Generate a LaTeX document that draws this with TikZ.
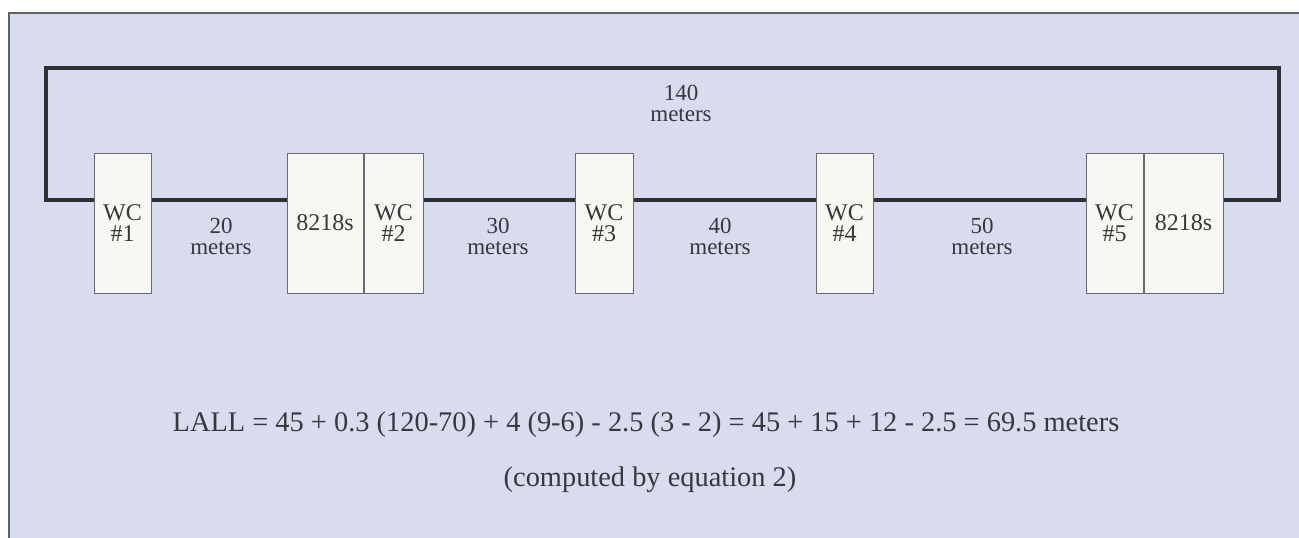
\documentclass[tikz,border=0pt]{standalone}
\usepackage{fontspec}
\setmainfont{Liberation Serif}
\usetikzlibrary{positioning}

\definecolor{panelfill}{RGB}{216,220,238}
\definecolor{panelline}{RGB}{95,100,98}
\definecolor{boxfill}{RGB}{248,248,243}
\definecolor{boxline}{RGB}{110,104,118}
\definecolor{cable}{RGB}{45,50,52}
\definecolor{ink}{RGB}{55,55,60}

\tikzset{
  unit/.style={draw=boxline, fill=boxfill, line width=0.5pt, minimum height=70pt,
    inner sep=0pt, align=center, text=ink, font=\fontsize{12}{10.5}\selectfont},
  dist/.style={align=center, text=ink, font=\fontsize{11.5}{10.5}\selectfont},
  cable/.style={draw=cable, line width=1.6pt}
}

\begin{document}
\begin{tikzpicture}[x=0.5pt, y=-0.5pt]
  \useasboundingbox (0,0) rectangle (1299,537);
  % background panel
  \draw[panelline, fill=panelfill, line width=0.8pt] (9,13) rectangle (1310,550);

  % work centers and controllers
  \node[unit, minimum width=28.5pt] (wc1) at (122.5,223) {WC\\\#1};
  \node[unit, minimum width=38pt] (s2) at (325,223) {8218s};
  \node[unit, minimum width=29.5pt, right=0pt of s2] (wc2) {WC\\\#2};
  \node[unit, minimum width=29pt] (wc3) at (604,223) {WC\\\#3};
  \node[unit, minimum width=28.5pt] (wc4) at (844.5,223) {WC\\\#4};
  \node[unit, minimum width=28.5pt] (wc5) at (1114.5,223) {WC\\\#5};
  \node[unit, minimum width=39.5pt, right=0pt of wc5] (s5) {8218s};

  % cable run
  \coordinate (ly) at (0,200);
  \coordinate (tl) at (46,68);
  \coordinate (tr) at (1279,68);
  \draw[cable] (wc1.east |- ly) -- (s2.west |- ly);
  \draw[cable] (wc2.east |- ly) -- (wc3.west |- ly);
  \draw[cable] (wc3.east |- ly) -- (wc4.west |- ly);
  \draw[cable] (wc4.east |- ly) -- (wc5.west |- ly);
  \draw[cable] (wc1.west |- ly) -| (tl) -- (tr) |- (s5.east |- ly);

  % distances
  \node[dist] (d140) at (681,103) {140\\meters};
  \node[dist] (d20) at (221,236) {20\\meters};
  \node[dist] (d30) at (498,236) {30\\meters};
  \node[dist] (d40) at (720,236) {40\\meters};
  \node[dist] (d50) at (982,236) {50\\meters};

  % result
  \node[text=ink, font=\fontsize{14.2}{15}\selectfont] (eqn) at (646,425)
    {LALL = 45 + 0.3 (120-70) + 4 (9-6) - 2.5 (3 - 2) = 45 + 15 + 12 - 2.5 = 69.5 meters};
  \node[text=ink, font=\fontsize{14.2}{15}\selectfont] (note) at (650,480) {(computed by equation 2)};
\end{tikzpicture}
\end{document}
